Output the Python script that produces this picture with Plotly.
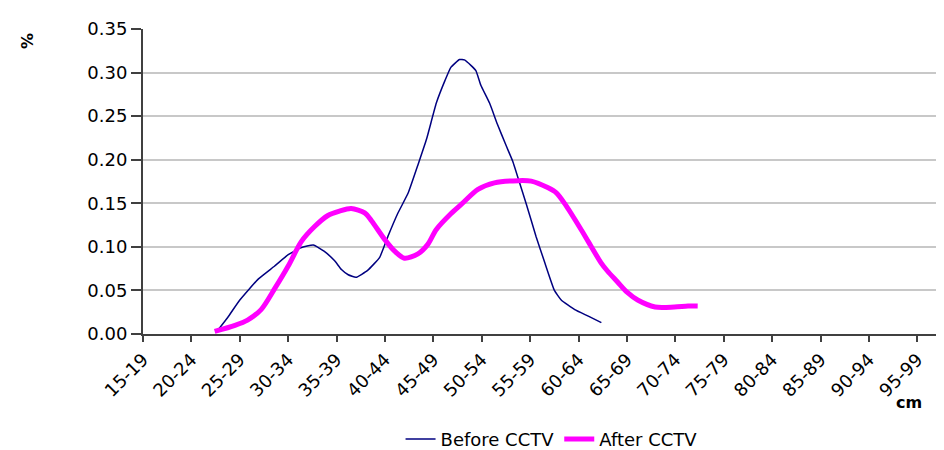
import plotly.graph_objects as go

# Category labels (length classes, cm) and their centre lengths
tick_labels = ["15-19", "20-24", "25-29", "30-34", "35-39", "40-44", "45-49", "50-54",
               "55-59", "60-64", "65-69", "70-74", "75-79", "80-84", "85-89", "90-94", "95-99"]
tick_centres = [17, 22, 27, 32, 37, 42, 47, 52, 57, 62, 67, 72, 77, 82, 87, 92, 97]

# Before CCTV (length in cm, proportion)
before_len = [24.7, 25.75, 27.0, 28.9, 30.6, 32.0, 33.3, 34.6, 35.7, 36.8, 37.5, 38.2, 39.0,
              40.2, 41.45, 42.3, 43.3, 44.4, 45.4, 46.3, 47.3, 48.2, 48.8, 49.7, 50.2, 50.9,
              51.4, 51.9, 52.8, 53.6, 54.5, 55.2, 55.9, 56.6, 57.6, 58.5, 59.5, 60.2, 61.6,
              63.0, 64.35]
before_val = [0.004, 0.019, 0.039, 0.063, 0.078, 0.091, 0.099, 0.102, 0.095, 0.084, 0.074,
              0.068, 0.065, 0.073, 0.088, 0.112, 0.138, 0.162, 0.194, 0.224, 0.265, 0.291,
              0.306, 0.315, 0.3146, 0.308, 0.302, 0.2855, 0.265, 0.241, 0.2165, 0.198, 0.1735,
              0.149, 0.112, 0.082, 0.050, 0.039, 0.028, 0.0205, 0.013]

# After CCTV
after_len = [24.4, 26.5, 27.8, 29.2, 30.6, 32.0, 33.35, 34.7, 36.1, 37.3, 38.5, 39.9, 40.6,
             42.0, 43.0, 44.0, 45.4, 46.4, 47.3, 48.8, 49.9, 51.6, 53.3, 55.8, 57.1, 58.8,
             59.7, 60.6, 62.3, 63.0, 64.3, 65.0, 66.0, 67.0, 68.1, 69.9, 71.9, 73.3, 74.3]
after_val = [0.003, 0.010, 0.016, 0.028, 0.052, 0.078, 0.106, 0.123, 0.136, 0.141, 0.144,
             0.139, 0.130, 0.108, 0.095, 0.087, 0.092, 0.1026, 0.120, 0.138, 0.149, 0.166,
             0.1735, 0.176, 0.1754, 0.168, 0.162, 0.149, 0.119, 0.106, 0.082, 0.072, 0.060,
             0.048, 0.039, 0.031, 0.031, 0.032, 0.032]

FONT = "DejaVu Sans"

fig = go.Figure()
fig.add_trace(go.Scatter(x=before_len, y=before_val, mode="lines", name="Before CCTV",
                         line=dict(color="#000080", width=1.5, shape="spline", smoothing=0.4)))
fig.add_trace(go.Scatter(x=after_len, y=after_val, mode="lines", name="After CCTV",
                         line=dict(color="#FF00FF", width=5, shape="spline", smoothing=0.8)))

fig.update_layout(
    width=944, height=450,
    margin=dict(l=135, r=0, t=21, b=115),
    paper_bgcolor="white", plot_bgcolor="white",
    font=dict(family=FONT, size=18, color="black"),
    showlegend=True,
    legend=dict(orientation="h", x=0.505, xanchor="center", y=-0.345, yanchor="middle",
                font=dict(family=FONT, size=18, color="black")),
    xaxis=dict(range=[17, 100.57], tickmode="array", tickvals=tick_centres, ticktext=tick_labels,
               tickangle=-45, ticks="outside", ticklen=6, tickwidth=2, tickcolor="#404040",
               showline=True, linecolor="#404040", linewidth=2, showgrid=False, zeroline=False,
               tickfont=dict(family=FONT, size=18, color="black")),
    yaxis=dict(range=[0, 0.35], tickmode="array",
               tickvals=[0, 0.05, 0.10, 0.15, 0.20, 0.25, 0.30, 0.35],
               ticktext=["0.00", "0.05", "0.10", "0.15", "0.20", "0.25", "0.30", "0.35"],
               ticks="outside", ticklen=10, tickwidth=2, tickcolor="#404040",
               showline=True, linecolor="#404040", linewidth=2,
               showgrid=True, gridcolor="#C8C8C8", gridwidth=1.5, zeroline=False,
               tickfont=dict(family=FONT, size=18, color="black")),
    annotations=[
        dict(text="<b>%</b>", xref="paper", yref="paper", x=-0.142, y=0.961, showarrow=False,
             textangle=-90, xanchor="center", yanchor="middle",
             font=dict(family=FONT, size=16, color="black")),
        dict(text="<b>cm</b>", xref="paper", yref="paper", x=0.947, y=-0.226, showarrow=False,
             xanchor="center", yanchor="middle",
             font=dict(family=FONT, size=16, color="black")),
    ],
)

fig.write_html("out.html")
